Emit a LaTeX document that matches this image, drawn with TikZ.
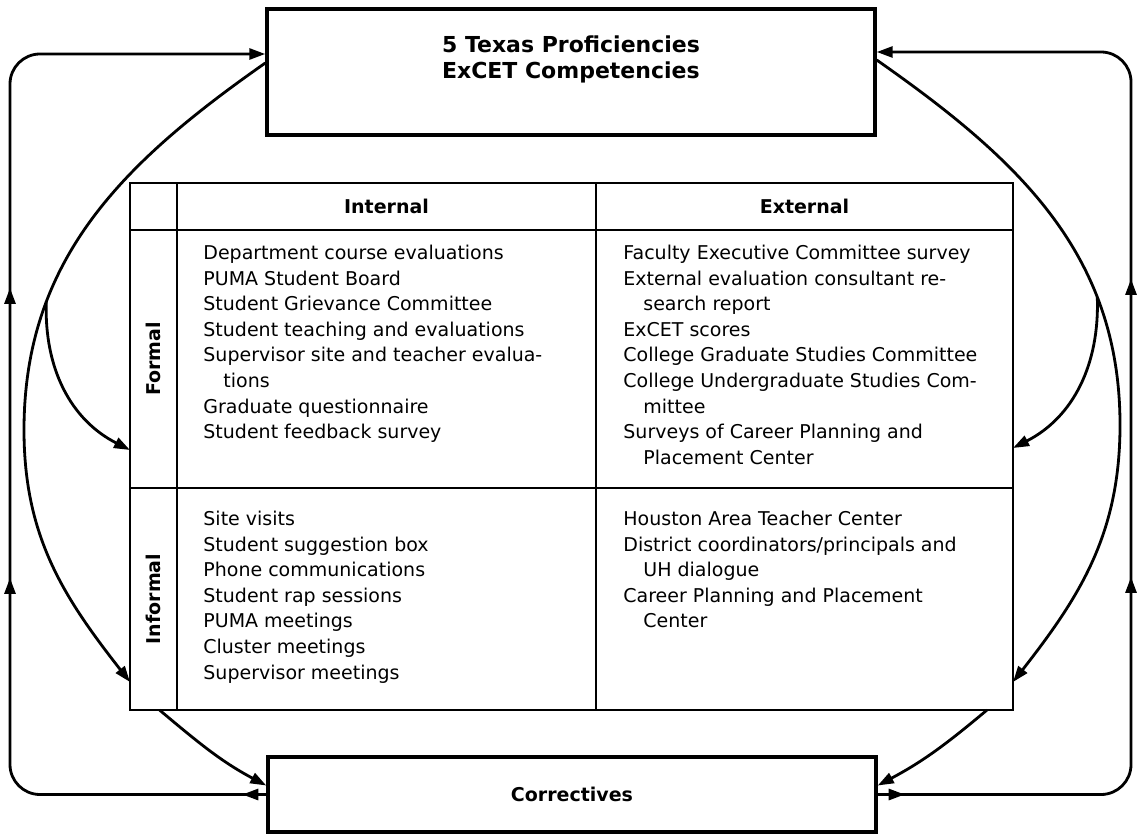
\documentclass[tikz,border=0pt]{standalone}
\usepackage{fontspec}
\usepackage{graphicx}
\setmainfont{DejaVu Sans}
\usetikzlibrary{arrows.meta,positioning,decorations.markings}

\begin{document}
\begin{tikzpicture}[x=0.5pt, y=-0.5pt,
    >={Triangle[length=8pt,width=5.5pt]},
    box/.style={draw, line width=1.7pt, minimum width=304pt, inner sep=0pt,
                font=\bfseries\fontsize{9.5}{12}\selectfont},
    cell/.style={draw, line width=1.4pt, inner sep=0pt, outer sep=0pt,
                 font=\bfseries\fontsize{9.5}{12}\selectfont},
    items/.style={align=left, inner sep=0pt, anchor=north west,
                  font=\fontsize{9.5}{12.8}\selectfont},
    flow/.style={->, line width=1.4pt},
    rail/.style={->, line width=1.4pt, rounded corners=15pt, postaction=decorate}]

\useasboundingbox (0,0) rectangle (1143,834);

% goals on top, correctives below
\node[box, minimum height=63pt] (goals) at (571,72) {};
\node[align=left, inner sep=0pt, font=\bfseries\fontsize{11}{13}\selectfont]
    (goalstxt) at ([yshift=6.5pt]goals.center) {5 Texas Proficiencies\\ExCET Competencies};
\node[box, minimum height=37.5pt] (fix) at (572,794.5) {Correctives};

% the feedback table
\node[cell, minimum width=23.5pt, minimum height=23.5pt] (corner) at (153.5,206.5) {};
\node[cell, right=0pt of corner, minimum width=209.5pt, minimum height=23.5pt] (intcol) {Internal};
\node[cell, right=0pt of intcol, minimum width=208.5pt, minimum height=23.5pt] (extcol) {External};
\node[cell, below=0pt of corner, minimum width=23.5pt, minimum height=129pt] (formal) {\rotatebox{90}{Formal}};
\node[cell, right=0pt of formal, minimum width=209.5pt, minimum height=129pt] (intform) {};
\node[cell, right=0pt of intform, minimum width=208.5pt, minimum height=129pt] (extform) {};
\node[cell, below=0pt of formal, minimum width=23.5pt, minimum height=111pt] (informal) {\rotatebox{90}{Informal}};
\node[cell, right=0pt of informal, minimum width=209.5pt, minimum height=111pt] (intinf) {};
\node[cell, right=0pt of intinf, minimum width=208.5pt, minimum height=111pt] (extinf) {};

\node[items] (intformtxt) at ([xshift=13pt,yshift=-7.3pt]intform.north west)
    {Department course evaluations\\
     PUMA Student Board\\
     Student Grievance Committee\\
     Student teaching and evaluations\\
     Supervisor site and teacher evalua-\\
     \hspace*{10pt}tions\\
     Graduate questionnaire\\
     Student feedback survey};
\node[items] (extformtxt) at ([xshift=13.5pt,yshift=-7.3pt]extform.north west)
    {Faculty Executive Committee survey\\
     External evaluation consultant re-\\
     \hspace*{10pt}search report\\
     ExCET scores\\
     College Graduate Studies Committee\\
     College Undergraduate Studies Com-\\
     \hspace*{10pt}mittee\\
     Surveys of Career Planning and\\
     \hspace*{10pt}Placement Center};
\node[items] (intinftxt) at ([xshift=13pt,yshift=-11.3pt]intinf.north west)
    {Site visits\\
     Student suggestion box\\
     Phone communications\\
     Student rap sessions\\
     PUMA meetings\\
     Cluster meetings\\
     Supervisor meetings};
\node[items] (extinftxt) at ([xshift=13.5pt,yshift=-11.3pt]extinf.north west)
    {Houston Area Teacher Center\\
     District coordinators/principals and\\
     \hspace*{10pt}UH dialogue\\
     Career Planning and Placement\\
     \hspace*{10pt}Center};

% arcs from the goals into both rows
\coordinate (lbulge) at (24,430);
\coordinate (rbulge) at (1120,425);
\draw[flow] ([yshift=4.5pt]goals.west) to[out=215,in=90] coordinate[pos=0.72] (lsplit) (lbulge)
    to[out=270,in=128] ([yshift=14pt]informal.south west);
\draw[flow] (lsplit) to[out=268,in=153] ([yshift=19pt]formal.south west);
\draw[flow] ([yshift=6pt]goals.east) to[out=-35,in=90] coordinate[pos=0.72] (rsplit) (rbulge)
    to[out=270,in=52] ([yshift=14pt]extinf.south east);
\draw[flow] (rsplit) to[out=272,in=27] ([yshift=20pt]extform.south east);

% table down to the correctives
\draw[flow] ([xshift=3pt]informal.south) to[out=-40,in=152] ([yshift=4.5pt]fix.west);
\draw[flow] ([xshift=-13pt]extinf.south east) to[out=220,in=28] ([yshift=4.5pt]fix.east);

% correctives back up to the goals
\coordinate (lrail) at (10,420);
\coordinate (rrail) at (1131,420);
\draw[rail, decoration={markings,
        mark=at position 12pt with {\arrow{>}},
        mark=at position 230pt with {\arrow{>}},
        mark=at position 375pt with {\arrow{>}}}]
    (fix.west) -| (lrail) |- ([yshift=9pt]goals.west);
\draw[rail, decoration={markings,
        mark=at position 13.5pt with {\arrow{>}},
        mark=at position 229pt with {\arrow{>}},
        mark=at position 378pt with {\arrow{>}}}]
    (fix.east) -| (rrail) |- ([yshift=10pt]goals.east);

\end{tikzpicture}
\end{document}
